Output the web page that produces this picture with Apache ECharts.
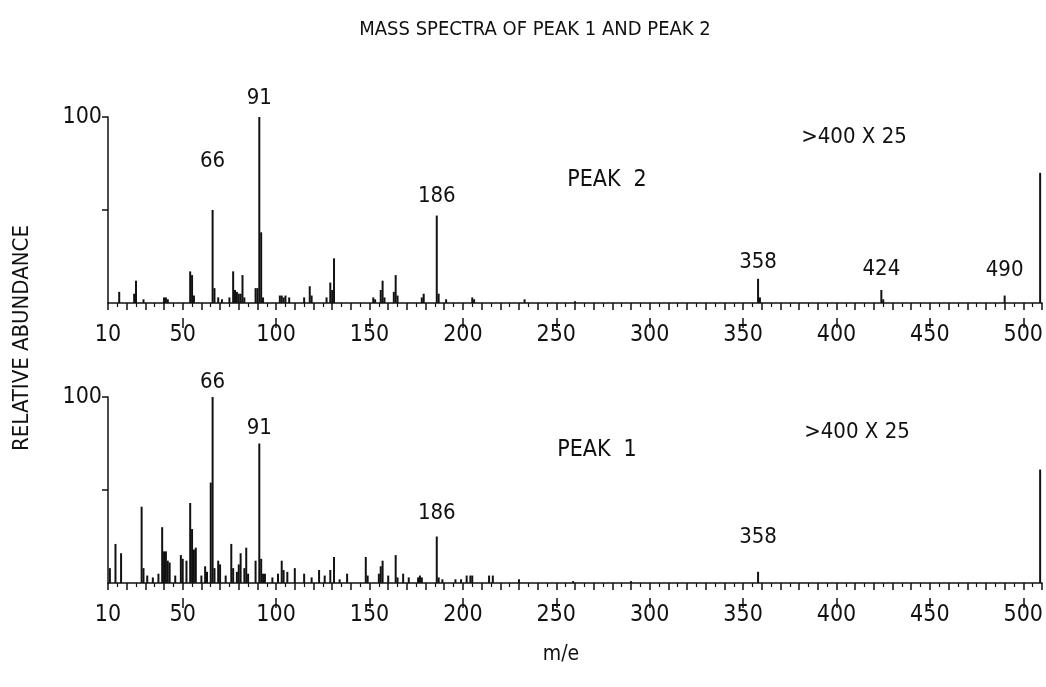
<!DOCTYPE html>
<html lang="en">
<head>
    <meta charset="UTF-8">
    <title>Mass spectra of peak 1 and peak 2</title>
    <script src="https://fastly.jsdelivr.net/npm/echarts@6/dist/echarts.min.js"></script>
</head>
<body style="margin:0;background:#fff;">
    <div id="dv" style="width:1046px;height:687px;"></div>
</body>
<script>
// PEAK 2 (upper trace): m/e and relative abundance
var mz2 = [16, 24, 25, 29, 40, 41, 42, 54, 55, 56, 66, 67, 69, 71, 75, 77, 78, 79, 80, 81, 82, 83, 89, 90, 91, 92, 93,
    102, 103, 104, 105, 107, 115, 118, 119, 127, 129, 130, 131, 152, 153, 156, 157, 158, 163, 164, 165, 178, 179,
    186, 187, 191, 205, 206, 233, 260, 358, 359, 424, 425, 490, 509]
var ab2 = [6, 5, 12, 2, 3, 3, 2, 17, 15, 4, 50, 8, 3, 2, 3, 17, 7, 6, 5, 5, 15, 3, 8, 8, 100, 38, 3,
    4, 4, 3, 4, 3, 3, 9, 4, 3, 11, 7, 24, 3, 2, 7, 12, 3, 6, 15, 4, 3, 5,
    47, 5, 2, 3, 2, 2, 1, 13, 3, 7, 2, 4, 70]

// PEAK 1 (lower trace)
var mz1 = [11, 14, 17, 28, 29, 31, 34, 37, 39, 40, 41, 42, 43, 46, 49, 50, 52, 54, 55, 56, 57, 60, 62, 63, 65, 66, 67,
    69, 70, 73, 76, 77, 79, 80, 81, 83, 84, 85, 89, 91, 92, 93, 94, 98, 101, 103, 104, 106, 110, 115, 119, 123, 126,
    129, 131, 134, 138, 148, 149, 155, 156, 157, 160, 164, 165, 168, 171, 176, 177, 178, 186, 187, 189, 196, 199,
    202, 204, 205, 214, 216, 230, 259, 290, 358, 509]
var ab1 = [8, 21, 16, 41, 8, 4, 3, 5, 30, 17, 17, 12, 11, 4, 15, 13, 12, 43, 29, 18, 19, 4, 9, 6, 54, 100, 8,
    12, 10, 4, 21, 8, 6, 10, 16, 8, 19, 5, 12, 75, 13, 5, 5, 3, 5, 12, 7, 6, 8, 5, 3, 7, 4,
    7, 14, 2, 5, 14, 4, 5, 9, 12, 4, 15, 3, 5, 3, 3, 4, 3, 25, 3, 2, 2, 2,
    4, 4, 4, 4, 4, 2, 1, 1, 6, 61]

// labelled peaks
var tags2 = [66, 91, 186, 358, 424, 490]
var tags1 = [66, 91, 186, 358]

var xTicks = [10, 50, 100, 150, 200, 250, 300, 350, 400, 450, 500]
var xMajor = [50, 100, 150, 200, 250, 300, 350, 400, 450, 500]

var FONT = "'Liberation Sans Narrow','DejaVu Sans Condensed','Liberation Sans',sans-serif"
var INK = '#111'

// how far each peak label sits above its line (px)
var lift2 = {66: 38, 91: 8, 186: 8, 358: 6, 424: 10, 490: 14}
var lift1 = {66: 4, 91: 4, 186: 12, 358: 24}

function sticks(mz, ab, tags, lift) {
    return mz.map(function (m, i) {
        var d = {value: [m, ab[i]]}
        if (tags.indexOf(m) >= 0) {
            d.label = {
                show: true, position: 'top', distance: lift[m],
                formatter: String(m), color: INK, fontSize: 22, fontFamily: FONT
            }
        }
        return d
    })
}

// axis drawn on the baseline: line, ticks every 10 and minor every 5
function mainX(grid) {
    return {
        type: 'value', gridIndex: grid, position: 'bottom', min: 10, max: 510, interval: 10,
        axisLine: {lineStyle: {color: INK, width: 1.5}},
        axisTick: {length: 7, lineStyle: {color: INK, width: 1.5}},
        minorTick: {show: true, splitNumber: 2, length: 4, lineStyle: {color: INK, width: 1.2}},
        axisLabel: {show: false},
        splitLine: {show: false}
    }
}
// thin helper grid under each baseline: long ticks every 50 on its top edge, labels on its bottom edge
function longTickX(grid) {
    return {
        type: 'value', gridIndex: grid, position: 'top', min: 10, max: 510, interval: 10,
        axisLine: {show: false},
        axisTick: {inside: true, customValues: xMajor, length: 10, lineStyle: {color: INK, width: 1.5}},
        axisLabel: {show: false},
        splitLine: {show: false}
    }
}
function labelX(grid) {
    return {
        type: 'value', gridIndex: grid, position: 'bottom', min: 10, max: 510, interval: 10,
        axisLine: {show: false},
        axisTick: {show: false},
        axisLabel: {customValues: xTicks, color: INK, fontSize: 23, fontFamily: FONT, margin: 1, padding: [5, 0, 0, 0]},
        splitLine: {show: false}
    }
}
function yAx(grid) {
    return {
        type: 'value', gridIndex: grid, min: 0, max: 100, interval: 50,
        axisLine: {show: true, lineStyle: {color: INK, width: 1.5}},
        axisTick: {show: true, customValues: [50, 100], length: 6, lineStyle: {color: INK, width: 1.5}},
        axisLabel: {customValues: [100], color: INK, fontSize: 23, fontFamily: FONT, margin: 6},
        splitLine: {show: false}
    }
}
function hiddenY(grid) {
    return {type: 'value', gridIndex: grid, min: 0, max: 1, show: false}
}

function txt(x, y, s, size, rot) {
    return {
        type: 'text', x: x, y: y, rotation: rot || 0,
        style: {text: s, fill: INK, font: size + 'px ' + FONT, textAlign: 'center', textVerticalAlign: 'middle'}
    }
}

var myChart = echarts.init(document.getElementById('dv'))
var option = {
    backgroundColor: '#fff',
    animation: false,
    grid: [
        {left: 108, right: 4, top: 117, height: 186},
        {left: 108, right: 4, top: 397, height: 186},
        {left: 108, right: 4, top: 303, height: 15},
        {left: 108, right: 4, top: 583, height: 15}
    ],
    xAxis: [mainX(0), mainX(1), longTickX(2), labelX(2), longTickX(3), labelX(3)],
    yAxis: [yAx(0), yAx(1), hiddenY(2), hiddenY(3)],
    graphic: [
        txt(535, 30, 'MASS SPECTRA OF PEAK 1 AND PEAK 2', 20),
        txt(22, 338, 'RELATIVE ABUNDANCE', 22, Math.PI / 2),
        txt(561, 655, 'm/e', 21),
        txt(607, 180, 'PEAK  2', 23),
        txt(854, 137, '>400 X 25', 22),
        txt(597, 450, 'PEAK  1', 23),
        txt(857, 432, '>400 X 25', 22)
    ],
    series: [
        {
            name: 'PEAK 2', type: 'bar', xAxisIndex: 0, yAxisIndex: 0,
            barWidth: 2, itemStyle: {color: INK},
            data: sticks(mz2, ab2, tags2, lift2)
        },
        {
            name: 'PEAK 1', type: 'bar', xAxisIndex: 1, yAxisIndex: 1,
            barWidth: 2, itemStyle: {color: INK},
            data: sticks(mz1, ab1, tags1, lift1)
        }
    ]
}
myChart.setOption(option)
</script>
</html>
